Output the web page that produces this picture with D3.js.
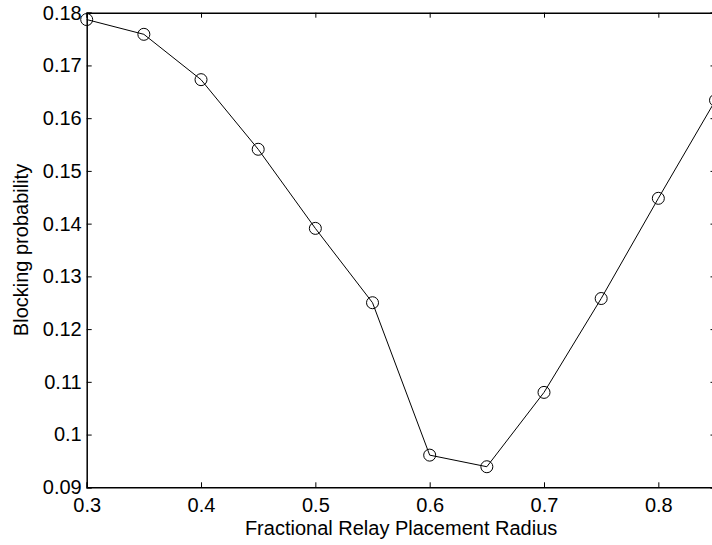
<!DOCTYPE html>
<html>
<head>
<meta charset="utf-8">
<script src="https://cdn.jsdelivr.net/npm/d3@7"></script>
<style>
  body { margin: 0; background: #fff; }
  svg { display: block; overflow: hidden; }
  text { font-family: "Liberation Sans", Arial, sans-serif; }
</style>
</head>
<body>
<div id="chart"></div>
<script>
// Data
var radius = [0.3, 0.35, 0.4, 0.45, 0.5, 0.55, 0.6, 0.65, 0.7, 0.75, 0.8, 0.85];
var blocking = [0.1787, 0.1759, 0.1673, 0.1541, 0.1391, 0.1250, 0.0961, 0.0939, 0.1080, 0.1258, 0.1448, 0.1634];
var xTicks = [0.3, 0.4, 0.5, 0.6, 0.7, 0.8];
var yTicks = [0.09, 0.1, 0.11, 0.12, 0.13, 0.14, 0.15, 0.16, 0.17, 0.18];

var margin = {top: 12.7, right: -3.5, bottom: 57.7, left: 86.7};
var width = 712 - margin.left - margin.right;
var height = 545 - margin.top - margin.bottom;

var x = d3.scaleLinear().domain([0.3, 0.85]).range([0, width]);
var y = d3.scaleLinear().domain([0.09, 0.18]).range([height, 0]);

var svg = d3.select('#chart').append('svg')
  .attr('width', 712)
  .attr('height', 545);

var g = svg.append('g')
  .attr('transform', 'translate(' + margin.left + ',' + margin.top + ')');

var fmt = function(d) { return d3.format('')(+d.toFixed(2)); };

// Axes, ticks pointing inward
var xAxis = g.append('g')
  .attr('transform', 'translate(0,' + height + ')')
  .call(d3.axisBottom(x).tickValues(xTicks).tickSize(-5).tickPadding(11).tickFormat(fmt));
var xTop = g.append('g')
  .call(d3.axisTop(x).tickValues(xTicks).tickSize(-5).tickFormat(''));
var yAxis = g.append('g')
  .call(d3.axisLeft(y).tickValues(yTicks).tickSize(-5).tickPadding(5).tickFormat(fmt));
var yRight = g.append('g')
  .attr('transform', 'translate(' + width + ',0)')
  .call(d3.axisRight(y).tickValues(yTicks).tickSize(-5).tickFormat(''));

g.selectAll('.domain').attr('stroke', '#000').attr('stroke-width', 1.5);
g.selectAll('.tick line').attr('stroke', '#000');
g.selectAll('.tick text')
  .attr('fill', '#000')
  .style('font-size', '20px');

// Line
var line = d3.line()
  .x(function(d, i) { return x(radius[i]); })
  .y(function(d) { return y(d); });

g.append('path')
  .datum(blocking)
  .attr('fill', 'none')
  .attr('stroke', '#000')
  .attr('stroke-width', 1)
  .attr('d', line);

// Circle markers
g.selectAll('circle.pt')
  .data(blocking)
  .enter().append('circle')
  .attr('class', 'pt')
  .attr('cx', function(d, i) { return x(radius[i]); })
  .attr('cy', function(d) { return y(d); })
  .attr('r', 6)
  .attr('fill', 'none')
  .attr('stroke', '#000')
  .attr('stroke-width', 1);

// Axis labels
svg.append('text')
  .attr('x', margin.left + x(0.575))
  .attr('y', 535)
  .attr('text-anchor', 'middle')
  .style('font-size', '20px')
  .text('Fractional Relay Placement Radius');

svg.append('text')
  .attr('transform', 'translate(27.5,' + (margin.top + height / 2) + ') rotate(-90)')
  .attr('text-anchor', 'middle')
  .style('font-size', '20px')
  .text('Blocking probability');
</script>
</body>
</html>
